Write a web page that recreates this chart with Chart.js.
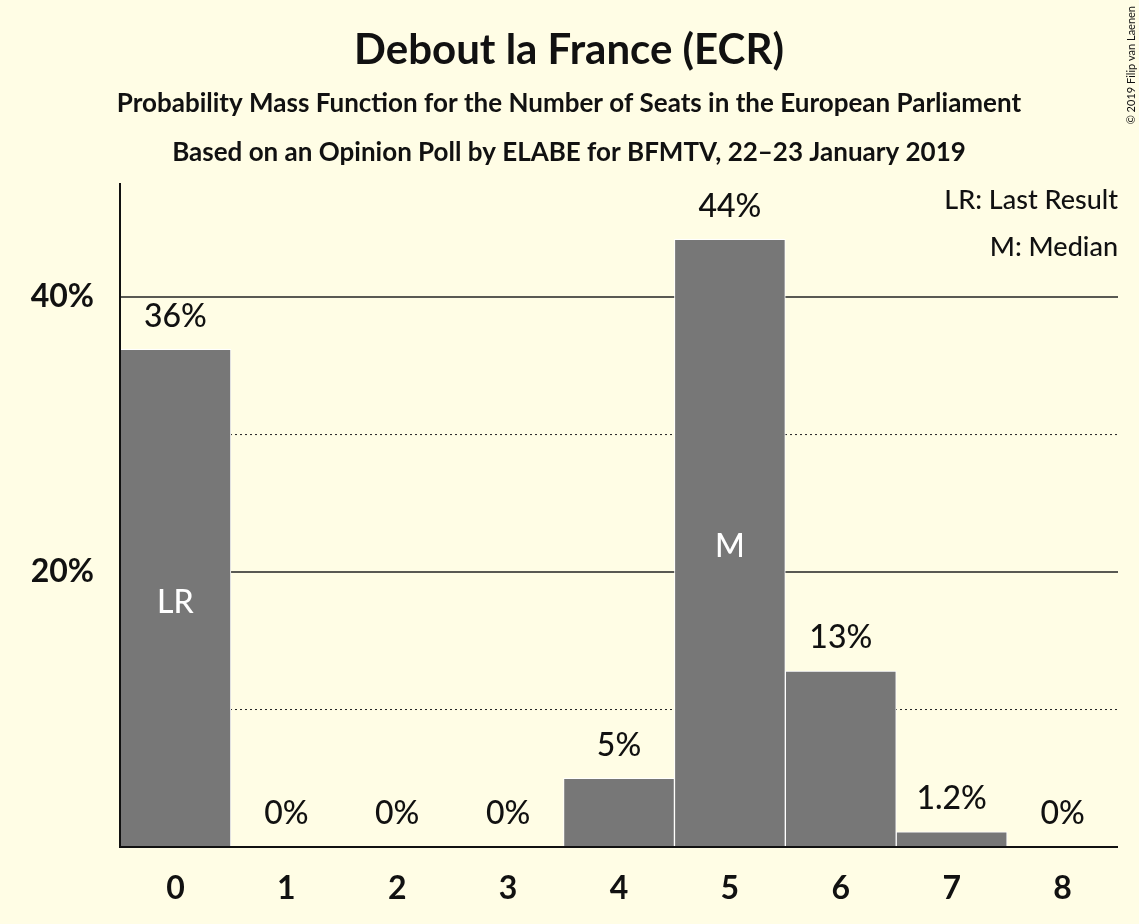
<!DOCTYPE html>
<html><head><meta charset="utf-8">
<script src="https://cdn.jsdelivr.net/npm/chart.js@4"></script>
<style>html,body{margin:0;background:#FFFDE5}#c{display:block}</style>
</head><body>
<canvas id="c" width="1139" height="924"></canvas>
<script>
const seats = ['0','1','2','3','4','5','6','7','8'];
const probs = [36.2, 0, 0, 0, 5.0, 44.2, 12.8, 1.1, 0];
const valueLabels = ['36%','0%','0%','0%','5%','44%','13%','1.2%','0%'];
const innerLabels = {0: 'LR', 5: 'M'};
const yTicks = [20, 40];
const BG = '#FFFDE5';

const decor = {
  id: 'decor',
  beforeDatasetsDraw(chart) {
    const {ctx, chartArea: a, scales: {y}} = chart;
    ctx.save();
    ctx.strokeStyle = '#222';
    [10, 20, 30, 40].forEach(v => {
      const py = y.getPixelForValue(v);
      ctx.lineWidth = v % 20 ? 1 : 1.5;
      ctx.setLineDash(v % 20 ? [2, 3] : []);
      ctx.beginPath(); ctx.moveTo(a.left, py); ctx.lineTo(a.right, py); ctx.stroke();
    });
    ctx.restore();
  },
  afterDatasetsDraw(chart) {
    const {ctx, chartArea: a} = chart;
    const meta = chart.getDatasetMeta(0);
    ctx.save();
    ctx.textAlign = 'center'; ctx.textBaseline = 'middle';
    meta.data.forEach((bar, i) => {
      ctx.fillStyle = '#111';
      ctx.font = '500 32px Lato';
      ctx.fillText(valueLabels[i], bar.x, bar.y - 33);
      if (innerLabels[i]) {
        ctx.fillStyle = '#fff';
        ctx.fillText(innerLabels[i], bar.x, i === 0 ? 603 : 547);
      }
    });
    // axes
    ctx.strokeStyle = '#111'; ctx.lineWidth = 2;
    ctx.beginPath(); ctx.moveTo(a.left, a.top); ctx.lineTo(a.left, a.bottom); ctx.lineTo(a.right, a.bottom); ctx.stroke();
    // titles
    ctx.fillStyle = '#111';
    ctx.font = 'bold 42px Lato';
    ctx.fillText('Debout la France (ECR)', 569, 50);
    ctx.font = 'bold 26px Lato';
    ctx.fillText('Probability Mass Function for the Number of Seats in the European Parliament', 569, 104);
    ctx.fillText('Based on an Opinion Poll by ELABE for BFMTV, 22–23 January 2019', 569, 153);
    ctx.textAlign = 'right';
    ctx.font = '500 27px Lato';
    ctx.fillText('LR: Last Result', 1118, 200);
    ctx.fillText('M: Median', 1118, 247);
    ctx.translate(1131, 6); ctx.rotate(-Math.PI / 2);
    ctx.font = '11px Lato';
    ctx.fillText('© 2019 Filip van Laenen', 0, 0);
    ctx.restore();
  }
};

new Chart(document.getElementById('c'), {
  type: 'bar',
  data: { labels: seats, datasets: [{ data: probs, backgroundColor: '#777777', borderColor: '#ffffff', borderWidth: 1, barPercentage: 1, categoryPercentage: 1 }] },
  options: {
    responsive: false, animation: false,
    layout: { padding: { top: 183, right: 21, left: 0, bottom: 0 } },
    plugins: { legend: { display: false }, tooltip: { enabled: false } },
    scales: {
      x: {
        grid: { display: false }, border: { display: false },
        ticks: { color: '#111', font: { family: 'Lato', size: 32, weight: 'bold' }, padding: 14 },
        afterFit(s) { s.height = 77; }
      },
      y: {
        min: 0, max: 48.3,
        grid: { display: false }, border: { display: false },
        afterBuildTicks(s) { s.ticks = yTicks.map(v => ({ value: v })); },
        ticks: { color: '#111', font: { family: 'Lato', size: 32, weight: 'bold' }, padding: 18, callback: v => v + '%' },
        afterFit(s) { s.width = 120; }
      }
    }
  },
  plugins: [decor]
});
</script>
</body></html>
